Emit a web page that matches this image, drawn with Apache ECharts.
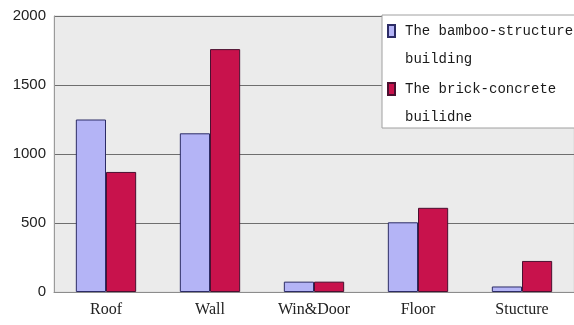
<!DOCTYPE html>
<html>
<head>
<meta charset="utf-8">
<script src="https://cdn.jsdelivr.net/npm/echarts@6/dist/echarts.min.js"></script>
<style>
  html, body { margin: 0; padding: 0; background: #ffffff; }
  #chart { width: 574px; height: 325px; }
</style>
</head>
<body>
<div id="chart"></div>
<script>
// Building parts compared
const categories = ['Roof', 'Wall', 'Win&Door', 'Floor', 'Stucture'];
const bambooValues = [1250, 1150, 75, 505, 40];
const brickValues = [870, 1760, 75, 610, 225];
const yTicks = { min: 0, max: 2000, interval: 500 };
const seriesNames = ['The bamboo-structure\nbuilding', 'The brick-concrete\nbuilidne'];

const chart = echarts.init(document.getElementById('chart'), null, { renderer: 'canvas' });

const lineH = 28;

chart.setOption({
  animation: false,
  backgroundColor: '#ffffff',
  grid: {
    left: 54, right: 0, top: 16, bottom: 33,
    show: true,
    backgroundColor: '#ebebeb',
    borderColor: '#d8d8d8',
    borderWidth: 1
  },
  legend: {
    orient: 'vertical',
    left: 382, top: 15,
    padding: [2 - lineH, 30, -3, 5],
    itemGap: 2 - lineH,
    itemWidth: 7, itemHeight: 12,
    icon: 'rect',
    backgroundColor: '#ffffff',
    borderColor: '#a0a0a0',
    borderWidth: 1,
    // a blank first line keeps the swatch level with the first text line
    formatter: name => ' \n' + name,
    textStyle: {
      fontFamily: 'Liberation Mono',
      fontSize: 14,
      color: '#1a1a1a',
      lineHeight: lineH,
      padding: [0, 0, 0, 5]
    },
    data: seriesNames
  },
  xAxis: {
    type: 'category',
    data: categories,
    axisLine: { show: true, lineStyle: { color: '#8c8c8c', width: 1 } },
    axisTick: { show: false },
    axisLabel: {
      margin: 10,
      fontFamily: 'Liberation Serif',
      fontSize: 16,
      color: '#222222'
    }
  },
  yAxis: {
    type: 'value',
    min: yTicks.min, max: yTicks.max, interval: yTicks.interval,
    axisLine: { show: true, lineStyle: { color: '#9a9a9a', width: 1 } },
    axisTick: { show: false },
    axisLabel: {
      margin: 8,
      fontFamily: 'Liberation Sans',
      fontSize: 15,
      color: '#222222',
      formatter: v => String(v)
    },
    splitLine: { show: true, lineStyle: { color: '#6e6e6e', width: 1 } }
  },
  series: [
    {
      name: seriesNames[0],
      type: 'bar',
      data: bambooValues,
      barGap: '0%',
      barCategoryGap: '42%',
      itemStyle: { color: '#b4b4f6', borderColor: '#2c2c66', borderWidth: 1 }
    },
    {
      name: seriesNames[1],
      type: 'bar',
      data: brickValues,
      itemStyle: { color: '#c8124c', borderColor: '#4a1030', borderWidth: 1 }
    }
  ]
});
</script>
</body>
</html>
